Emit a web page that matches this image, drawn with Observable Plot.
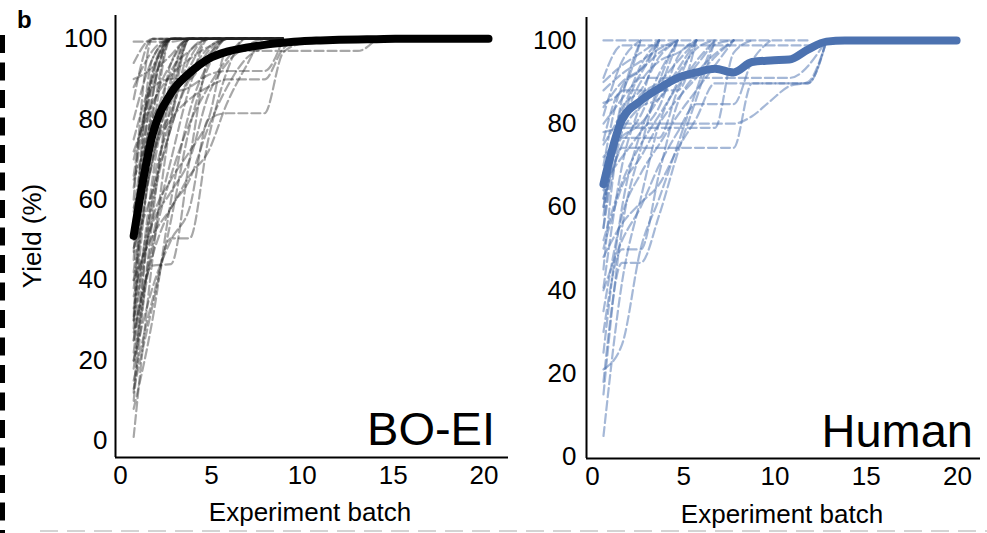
<!DOCTYPE html>
<html>
<head>
<meta charset="utf-8">
<script src="https://cdn.jsdelivr.net/npm/d3@7"></script>
<script src="https://cdn.jsdelivr.net/npm/@observablehq/plot@0.6"></script>
<style>
  html, body { margin: 0; padding: 0; background: white; }
  #wrap { position: relative; width: 987px; height: 533px; overflow: hidden; font-family: "Liberation Sans", Arial, Helvetica, sans-serif; }
  #left, #right { position: absolute; top: 0; }
  #left { left: 0; }
  #right { left: 530px; }
  #overlay { position: absolute; left: 0; top: 0; pointer-events: none; }
</style>
</head>
<body>
<div id="wrap">
  <div id="left"></div>
  <div id="right"></div>
  <svg id="overlay" width="987" height="533"></svg>
</div>
<script>
// ---------- data ----------
const yTicks = [0, 20, 40, 60, 80, 100];
const xTicks = [0, 5, 10, 15, 20];

// plotted x position of each experiment batch (1..20)
const boBatchX = [0.72, 1.75, 2.78, 3.80, 4.83, 5.86, 6.89, 7.92, 8.94, 9.97, 11.0, 12.03, 13.06, 14.08, 15.11, 16.14, 17.17, 18.2, 19.22, 20.25];
const humanBatchX = [0.6, 1.62, 2.64, 3.65, 4.67, 5.69, 6.71, 7.73, 8.74, 9.76, 10.78, 11.8, 12.82, 13.83, 14.85, 15.87, 16.89, 17.91, 18.93, 19.95];

// mean best-so-far yield per batch
const boMean = [51, 76, 86.5, 91.5, 95, 96.8, 97.8, 98.5, 99, 99.4, 99.6, 99.75, 99.85, 99.9, 100, 100, 100, 100, 100, 100];
const humanMean = [65.5, 81, 85.5, 88.5, 91, 92.3, 93.2, 92.3, 94.8, 95.2, 95.4, 97.8, 99.7, 100, 100, 100, 100, 100, 100, 100];

// individual runs: [batch, best yield so far]
const boRuns = [
  [[1,99.3],[3,99.3],[4,100],[9,100]],
  [[1,1],[2,45],[3,80],[4,100],[9,100]],
  [[1,20],[2,38],[3,50],[4,58],[5,80],[6,81.5],[8,81.5],[9,96.5],[10,99],[11,100]],
  [[1,30],[2,55],[3,65],[4,72],[5,80],[6,97],[13,97],[14,100]],
  [[1,40],[2,70],[3,80],[4,85],[5,88],[6,89.9],[8,89.9],[9,97.5],[10,100]],
  [[1,55],[2,80],[3,86],[4,88],[5,91],[6,92],[8,92],[9,100]],
  [[1,15],[2,35],[3,50.4],[4,50.4],[5,75],[6,92],[7,100],[9,100]],
  [[1,25],[2,43.6],[3,44],[4,70],[5,95],[6,100],[9,100]],
  [[1,13],[3,55],[4,78],[5,93],[6,100],[9,100]],
  [[1,60],[2,100],[9,100]],
  [[1,45],[2,95],[3,100],[9,100]],
  [[1,70],[2,88],[3,100],[9,100]],
  [[1,30],[2,75],[3,100],[9,100]],
  [[1,85],[2,100],[9,100]],
  [[1,52],[2,82],[3,94],[4,100],[9,100]],
  [[1,25],[2,65],[3,90],[4,100],[9,100]],
  [[1,90],[2,93],[3,100],[9,100]],
  [[1,10],[2,55],[3,88],[4,100],[9,100]],
  [[1,65],[2,78],[3,92],[4,97],[5,100],[9,100]],
  [[1,38],[2,70],[3,85],[4,93],[5,100],[9,100]],
  [[1,75],[2,90],[3,96],[4,100],[9,100]],
  [[1,20],[2,50],[3,70],[4,88],[5,100],[9,100]],
  [[1,48],[2,62],[3,78],[4,91],[6,100],[9,100]],
  [[1,8],[2,30],[3,60],[4,82],[5,94],[6,100],[9,100]],
  [[1,57],[2,86],[3,100],[9,100]],
  [[1,33],[2,60],[3,84],[4,100],[9,100]],
  [[1,80],[2,95],[3,100],[9,100]],
  [[1,42],[2,80],[3,100],[9,100]],
  [[1,22],[2,58],[3,78],[4,90],[5,96],[6,100],[9,100]],
  [[1,63],[2,91],[3,100],[9,100]],
  [[1,28],[2,85],[3,100],[9,100]],
  [[1,50],[2,72],[3,82],[4,95],[5,100],[9,100]],
  [[1,18],[2,48],[3,66],[4,79],[5,88],[6,95],[7,100],[9,100]],
  [[1,72],[2,84],[3,91],[4,95],[5,98],[6,100],[9,100]],
  [[1,36],[2,54],[3,62],[4,70],[5,86],[6,94],[7,98],[8,100],[9,100]],
  [[1,88],[2,97],[3,100],[9,100]],
  [[1,47],[2,92],[3,100],[9,100]],
  [[1,12],[2,62],[3,80],[4,97],[5,100],[9,100]],
  [[1,58],[2,74],[3,87],[4,100],[9,100]],
  [[1,94],[2,100],[9,100]],
  [[1,40],[2,51],[3,58],[4,66],[5,72],[6,84],[7,93],[8,100],[9,100]],
  [[1,27],[2,46],[3,58],[4,65],[5,78],[6,88],[7,95],[8,98],[9,100]],
  [[1,66],[2,88],[3,90],[4,90],[5,97],[6,100],[9,100]],
  [[1,54],[2,69],[3,94],[4,100],[9,100]],
  [[1,31],[2,90],[3,100],[9,100]]
];

const humanRuns = [
  [[1,100],[12,100]],
  [[1,91],[2,98.8],[12,98.8],[13,100]],
  [[1,60],[2,80],[3,91],[11,91],[13,100]],
  [[1,48],[2,56],[3,61],[4,65.4],[5,74],[6,81.3],[7,89.7],[12,89.7],[13,100]],
  [[1,55],[2,74.2],[8,74.2],[9,89.7],[12,89.7],[13,100]],
  [[1,62],[2,80],[8,80],[9,81.8],[10,85.5],[11,89],[12,90],[13,100]],
  [[1,58],[2,79],[7,79],[8,97],[9,100]],
  [[1,40],[2,52],[3,60],[4,70],[5,78],[6,84.7],[8,84.7],[9,95],[10,100]],
  [[1,45],[2,76.6],[4,76.6],[5,88],[6,95],[7,100]],
  [[1,5],[2,42],[3,62],[4,80],[5,90],[6,100]],
  [[1,40.6],[2,70],[3,85],[4,100]],
  [[1,21],[2,27],[3,50],[4,62],[5,75],[6,88],[7,99],[8,100]],
  [[1,30],[2,49.8],[3,49.8],[4,68],[5,85],[6,92],[8,100]],
  [[1,18],[2,46.6],[3,46.6],[4,58],[5,73],[6,86],[7,100]],
  [[1,85],[2,88],[3,100]],
  [[1,70],[2,89],[3,93],[4,100]],
  [[1,62],[2,75],[3,82],[4,92],[5,100]],
  [[1,55],[2,84],[3,88],[4,96],[5,100]],
  [[1,78],[2,80],[3,87],[4,90],[5,95],[6,100]],
  [[1,66],[2,72],[3,78],[4,84],[5,96],[6,100]],
  [[1,75],[2,83],[3,94],[4,100]],
  [[1,88],[2,92],[3,95],[4,98],[5,100]],
  [[1,52],[2,66],[3,75],[4,82],[5,89],[6,94],[7,100]],
  [[1,35],[2,58],[3,68],[4,75],[5,82],[6,88],[7,94],[8,100]],
  [[1,82],[2,95],[3,100]],
  [[1,60],[2,86],[3,100]],
  [[1,72],[2,77],[3,80],[4,86],[5,93],[6,100]],
  [[1,25],[2,60],[3,78],[4,88],[5,100]],
  [[1,90],[2,94],[3,97],[4,100]],
  [[1,68],[2,80],[3,90],[4,95],[5,97],[6,100]],
  [[1,50],[2,65],[3,72],[4,80],[5,86],[6,91],[7,96],[8,100]],
  [[1,80],[2,86],[3,92],[4,100]],
  [[1,15],[2,55],[3,74],[4,90],[5,100]],
  [[1,76],[2,88],[5,88],[6,100]],
  [[1,64],[2,78],[3,84],[4,86],[5,92],[6,98],[7,100]],
  [[1,84],[2,90],[3,93],[4,97],[5,100]]
];

// ---------- build ----------
function runRows(runs, bx) {
  return runs.flatMap((run, i) => run.map(([b, v]) => ({run: i, x: bx[b - 1], y: v})));
}
function meanRows(mean, bx) {
  return mean.map((v, i) => ({x: bx[i], y: v}));
}

const FONT = "'Liberation Sans', Arial, Helvetica, sans-serif";

function panel({width, mLeft, mRight, mTop, mBottom, xDom, yDom, runs, mean, traceColor, traceOpacity, meanColor, yPad}) {
  return Plot.plot({
    width, height: 533,
    marginLeft: mLeft, marginRight: mRight, marginTop: mTop, marginBottom: mBottom,
    x: {domain: xDom},
    y: {domain: yDom},
    style: {fontFamily: FONT, fontSize: "26px", color: "black", background: "transparent", overflow: "visible"},
    marks: [
      Plot.line(runs, {x: "x", y: "y", z: "run", stroke: traceColor, strokeOpacity: traceOpacity, strokeWidth: 2.2, strokeDasharray: "9,4", curve: "monotone-x"}),
      Plot.line(mean, {x: "x", y: "y", stroke: meanColor, strokeWidth: 8, strokeLinecap: "round", strokeLinejoin: "round", curve: "monotone-x"}),
      Plot.ruleX([xDom[0]], {stroke: "black", strokeWidth: 2}),
      Plot.ruleY([yDom[0]], {stroke: "black", strokeWidth: 2}),
      Plot.axisY({ticks: yTicks, tickSize: 0, tickPadding: yPad, label: null, fontSize: 26}),
      Plot.axisX({ticks: xTicks, tickSize: 0, tickPadding: 8, label: null, fontSize: 26})
    ]
  });
}

document.getElementById("left").append(panel({
  width: 530, mLeft: 115, mRight: 22, mTop: 15, mBottom: 76,
  xDom: [-0.28, 21.35], yDom: [-4.1, 105.8],
  runs: runRows(boRuns, boBatchX), mean: meanRows(boMean, boBatchX),
  traceColor: "#222", traceOpacity: 0.4, meanColor: "black", yPad: 8
}));

document.getElementById("right").append(panel({
  width: 457, mLeft: 56, mRight: 7, mTop: 17, mBottom: 75,
  xDom: [-0.33, 21.26], yDom: [-0.4, 105.5],
  runs: runRows(humanRuns, humanBatchX), mean: meanRows(humanMean, humanBatchX),
  traceColor: "#4c72b0", traceOpacity: 0.5, meanColor: "#4c72b0", yPad: 10
}));

// ---------- overlay text and figure frame ----------
const ov = d3.select("#overlay");
ov.append("line").attr("x1", 2.5).attr("x2", 2.5).attr("y1", 35).attr("y2", 533)
  .attr("stroke", "black").attr("stroke-width", 5).attr("stroke-dasharray", "18,9.5");
ov.append("line").attr("x1", 40).attr("x2", 987).attr("y1", 531).attr("y2", 531)
  .attr("stroke", "#d4d4d4").attr("stroke-width", 2).attr("stroke-dasharray", "18,9");
const txt = (x, y, s, opts = {}) => ov.append("text").attr("x", x).attr("y", y).text(s)
  .attr("font-family", FONT).attr("font-size", opts.size || 26)
  .attr("font-weight", opts.weight || "normal").attr("text-anchor", opts.anchor || "start")
  .attr("transform", opts.transform || null).attr("fill", "black");
txt(17, 28, "b", {size: 24, weight: "bold"});
txt(0, 0, "Yield (%)", {anchor: "middle", transform: "translate(41,236) rotate(-90)"});
txt(310, 521, "Experiment batch", {anchor: "middle"});
txt(782, 523, "Experiment batch", {anchor: "middle"});
txt(495, 445, "BO-EI", {size: 47, anchor: "end"});
txt(973, 447, "Human", {size: 47, anchor: "end"});
</script>
</body>
</html>
